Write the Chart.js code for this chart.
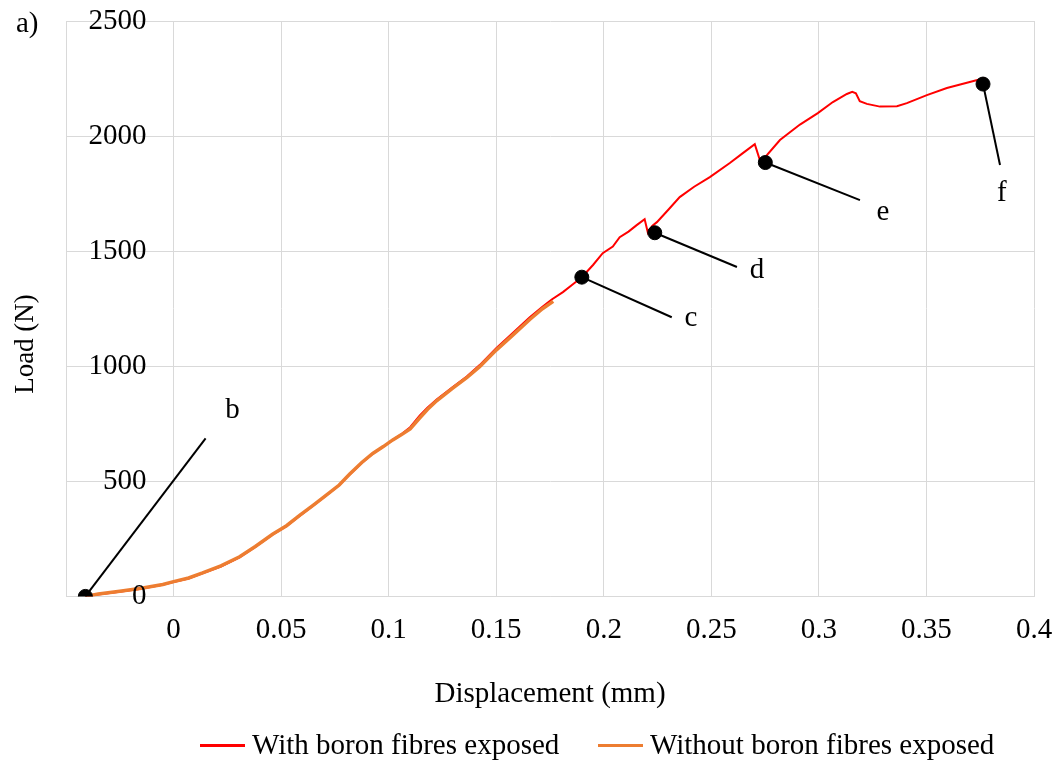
<!DOCTYPE html>
<html>
<head>
<meta charset="utf-8">
<script src="https://cdn.jsdelivr.net/npm/chart.js@4"></script>
<style>
  html, body { margin: 0; padding: 0; background: #fff; }
  #wrap { width: 1057px; height: 765px; }
</style>
</head>
<body>
<div id="wrap"><canvas id="chart"></canvas></div>
<script>
// ── Adatok ──
const dispWith = [-0.041, -0.035, -0.025, -0.015, -0.005, 0, 0.007, 0.0135, 0.022, 0.0307, 0.038, 0.046, 0.0525, 0.0586,
  0.065, 0.071, 0.077, 0.0819, 0.0875, 0.0926, 0.0975, 0.1019, 0.106, 0.11, 0.1144, 0.118, 0.1223, 0.1298, 0.1363,
  0.1423, 0.15, 0.1577, 0.1656, 0.1715, 0.1758, 0.181, 0.1855, 0.1898, 0.195, 0.1995, 0.2042, 0.2074, 0.2115, 0.2153,
  0.219, 0.2205, 0.2225, 0.2247, 0.23, 0.2353, 0.242, 0.2493, 0.2586, 0.2645, 0.2702, 0.2726, 0.2758, 0.2819, 0.2912,
  0.2995, 0.3065, 0.313, 0.3155, 0.3172, 0.319, 0.3223, 0.3284, 0.3363, 0.3409, 0.3502, 0.3595, 0.3688, 0.3772];
const loadWith = [0, 8, 20, 33, 50, 62, 78, 100, 130, 170, 215, 268, 305, 350,
  395, 439, 483, 530, 580, 620, 650, 680, 705, 735, 785, 820, 855, 910, 955,
  1005, 1078, 1145, 1213, 1258, 1290, 1322, 1355, 1387, 1440, 1491, 1520, 1561, 1585, 1613,
  1639, 1580, 1610, 1626, 1680, 1735, 1780, 1822, 1883, 1925, 1965, 1895, 1917, 1983, 2050,
  2100, 2148, 2183, 2192, 2186, 2152, 2140, 2128, 2130, 2143, 2178, 2209, 2232, 2252];

const dispWithout = [-0.041, -0.035, -0.025, -0.015, -0.005, 0, 0.007, 0.0135, 0.022, 0.0307, 0.038, 0.046, 0.0525,
  0.0586, 0.065, 0.071, 0.077, 0.0819, 0.0875, 0.0926, 0.0975, 0.1019, 0.106, 0.11, 0.1144, 0.118, 0.1223, 0.1298,
  0.1363, 0.1423, 0.15, 0.1577, 0.1656, 0.1715, 0.1765];
const loadWithout = [0, 10, 22, 35, 52, 64, 80, 102, 133, 172, 217, 270, 307,
  352, 397, 440, 484, 532, 582, 621, 651, 680, 703, 728, 775, 812, 850, 905,
  950, 998, 1070, 1135, 1203, 1250, 1282];

// jelölt pontok (b–f) és a hozzájuk tartozó vezetővonalak / feliratok
const markLabels = ['b', 'c', 'd', 'e', 'f'];
const markX = [-0.041, 0.1898, 0.2237, 0.2751, 0.3763];
const markY = [0, 1387, 1580, 1885, 2226];
const leadX = [0.0149, 0.2316, 0.2619, 0.3191, 0.3842];
const leadY = [687, 1213, 1431, 1722, 1874];
const textX = [0.0274, 0.2405, 0.2712, 0.3298, 0.3851];
const textY = [809, 1209, 1417, 1670, 1752];

const xMin = -0.05, xMax = 0.4, xStep = 0.05;
const yTicks = [0, 500, 1000, 1500, 2000, 2500];

const FONT = '"Liberation Serif", "Times New Roman", serif';
const GRID = '#d9d9d9';

const toPts = (xs, ys) => xs.map((x, i) => ({ x, y: ys[i] }));

const leaderSets = markX.map((mx, i) => ({
  label: 'lead-' + markLabels[i],
  data: [{ x: mx, y: markY[i] }, { x: leadX[i], y: leadY[i] }],
  showLine: true,
  borderColor: '#000',
  borderWidth: 2,
  pointRadius: 0,
  order: 1
}));

// ── Feliratok: y tengely számai, betűjelek, "a)", y-cím, jelmagyarázat ──
const overlay = {
  id: 'overlay',
  afterDraw(chart) {
    const { ctx, scales: { x, y } } = chart;
    ctx.save();
    ctx.fillStyle = '#000';
    ctx.font = '29px ' + FONT;
    ctx.textAlign = 'right';
    ctx.textBaseline = 'middle';
    const x0 = x.getPixelForValue(0);
    yTicks.forEach(v => ctx.fillText(String(v), x0 - 27, y.getPixelForValue(v)));

    ctx.textAlign = 'center';
    markLabels.forEach((t, i) => {
      ctx.fillText(t, x.getPixelForValue(textX[i]), y.getPixelForValue(textY[i]));
    });

    ctx.textAlign = 'left';
    ctx.fillText('a)', 16, 24);

    // y tengely címe
    ctx.save();
    ctx.translate(26, 344);
    ctx.rotate(-Math.PI / 2);
    ctx.textAlign = 'center';
    ctx.font = '27px ' + FONT;
    ctx.fillText('Load (N)', 0, 0);
    ctx.restore();

    // jelmagyarázat
    const legendX = [200, 598];
    chart.data.datasets.slice(0, 2).forEach((ds, i) => {
      ctx.fillStyle = ds.borderColor;
      ctx.fillRect(legendX[i], 744, 45, 3);
      ctx.fillStyle = '#000';
      ctx.textAlign = 'left';
      ctx.fillText(ds.label, legendX[i] + 52, 746);
    });
    ctx.restore();
  }
};

new Chart(document.getElementById('chart'), {
  type: 'scatter',
  data: {
    datasets: [
      {
        label: 'With boron fibres exposed',
        data: toPts(dispWith, loadWith),
        showLine: true,
        borderColor: '#ff0000',
        backgroundColor: '#ff0000',
        borderWidth: 2,
        pointRadius: 0,
        order: 3
      },
      {
        label: 'Without boron fibres exposed',
        data: toPts(dispWithout, loadWithout),
        showLine: true,
        borderColor: '#ed7d31',
        backgroundColor: '#ed7d31',
        borderWidth: 3.5,
        pointRadius: 0,
        order: 2
      },
      ...leaderSets,
      {
        label: 'marks',
        data: toPts(markX, markY),
        pointRadius: 7,
        pointBackgroundColor: '#000',
        pointBorderColor: '#000',
        order: 0
      }
    ]
  },
  options: {
    responsive: true,
    maintainAspectRatio: false,
    animation: false,
    layout: { padding: { top: 21, right: 23, bottom: 53, left: 0 } },
    plugins: {
      tooltip: { enabled: false },
      legend: { display: false }
    },
    scales: {
      x: {
        type: 'linear',
        min: xMin,
        max: xMax,
        ticks: {
          stepSize: xStep,
          font: { family: FONT, size: 29 },
          color: '#000',
          padding: 17,
          maxRotation: 0,
          autoSkip: false,
          callback: v => (v < -0.001 ? '' : String(Math.round(v * 100) / 100))
        },
        grid: { color: GRID, drawTicks: false },
        border: { color: GRID },
        title: {
          display: true,
          text: 'Displacement (mm)',
          font: { family: FONT, size: 29 },
          color: '#000',
          padding: { top: 12, bottom: 0 }
        },
        afterFit: scale => { scale.paddingRight = 0; scale.paddingLeft = 0; }
      },
      y: {
        min: 0,
        max: 2500,
        ticks: { stepSize: 500, display: false },
        grid: { color: GRID, drawTicks: false },
        border: { color: GRID },
        afterFit: scale => { scale.width = 66; }
      }
    }
  },
  plugins: [overlay]
});
</script>
</body>
</html>
